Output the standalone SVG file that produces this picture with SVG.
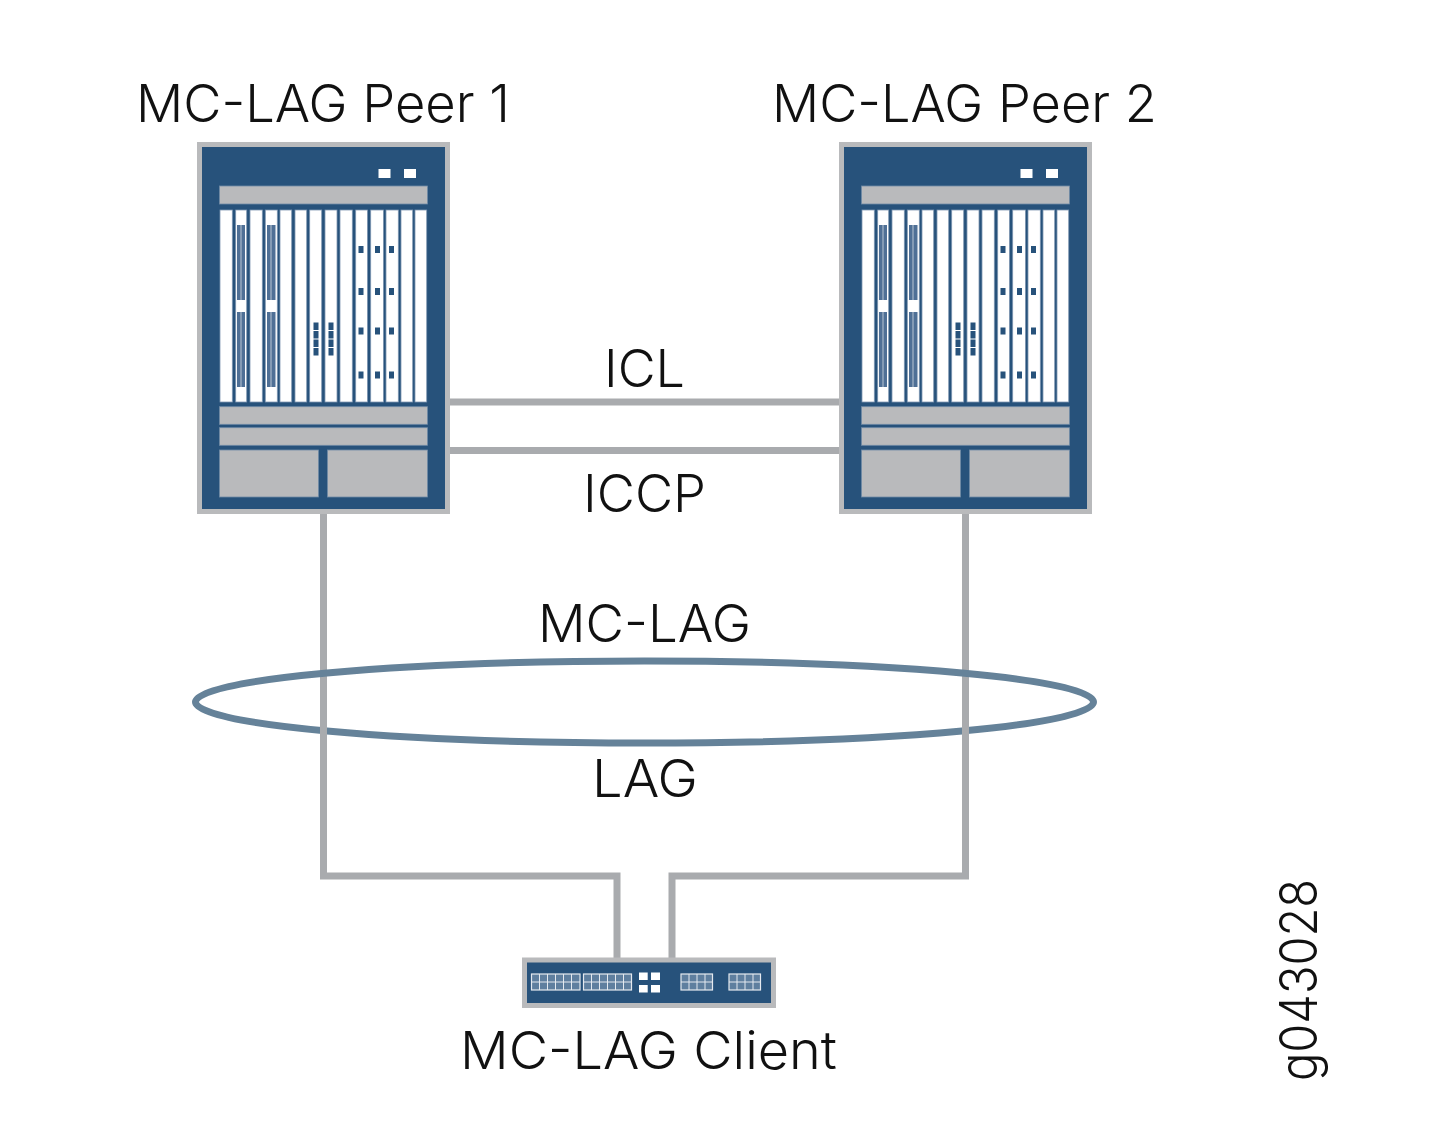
<svg xmlns="http://www.w3.org/2000/svg" xmlns:xlink="http://www.w3.org/1999/xlink" width="1450" height="1138" viewBox="0 0 1450 1138">
<style>
.t{font-family:"Inter","Lato","Liberation Sans",sans-serif;font-size:52px;fill:#111;font-weight:300}
.body{fill:#27527b;stroke:#b9babc;stroke-width:5}
.g{fill:#b9babc;stroke:#6f8aa6;stroke-width:.8}
.s{fill:#fff;stroke:#7f97b2;stroke-width:.8}
.w{fill:#fff}
.d{fill:#27527b}
.st{fill:#4f7096}
.c{fill:none;stroke:#a9abae;stroke-width:7}
.e{fill:none;stroke:#658299;stroke-width:7}
.p{fill:#5f7f9f;stroke:#e4e9ef;stroke-width:1.2}
.pl{stroke:#e4e9ef;stroke-width:1;fill:none}
</style>
<defs>
<g id="chassis">
<rect class="body" x="199.5" y="144.500" width="248" height="367"/>
<rect class="w" x="378.5" y="169" width="12" height="9"/>
<rect class="w" x="404" y="169" width="12" height="9"/>
<rect class="g" x="219.5" y="186" width="208" height="18"/>
<g class="slots">
<rect class="s" x="220" y="210" width="12.3" height="192"/>
<rect class="s" x="235.7" y="210" width="11" height="192"/>
<rect class="s" x="250" y="210" width="12.3" height="192"/>
<rect class="s" x="265.3" y="210" width="12" height="192"/>
<rect class="s" x="280" y="210" width="11.7" height="192"/>
<rect class="s" x="295" y="210" width="11.7" height="192"/>
<rect class="s" x="309.7" y="210" width="12" height="192"/>
<rect class="s" x="325" y="210" width="12" height="192"/>
<rect class="s" x="340" y="210" width="12.3" height="192"/>
<rect class="s" x="355.7" y="210" width="11.7" height="192"/>
<rect class="s" x="370.7" y="210" width="12.7" height="192"/>
<rect class="s" x="386" y="210" width="12.3" height="192"/>
<rect class="s" x="401" y="210" width="11.7" height="192"/>
<rect class="s" x="415" y="210" width="11.7" height="192"/>
</g>
<g id="stripes">
<rect class="st" x="237" y="225" width="8" height="75"/>
<rect class="st" x="237" y="312" width="8" height="75"/>
<rect class="w" x="240.5" y="225" width="1" height="75" opacity=".6"/>
<rect class="w" x="240.5" y="312" width="1" height="75" opacity=".6"/>
<rect class="st" x="267" y="225" width="8.5" height="75"/>
<rect class="st" x="267" y="312" width="8.5" height="75"/>
<rect class="w" x="270.5" y="225" width="1" height="75" opacity=".6"/>
<rect class="w" x="270.5" y="312" width="1" height="75" opacity=".6"/>
</g>
<g class="d">
<rect x="358.5" y="246" width="5" height="7"/><rect x="375" y="246" width="5" height="7"/><rect x="389" y="246" width="5" height="7"/>
<rect x="358.5" y="288" width="5" height="7"/><rect x="375" y="288" width="5" height="7"/><rect x="389" y="288" width="5" height="7"/>
<rect x="358.5" y="327.500" width="5" height="7"/><rect x="375" y="327.500" width="5" height="7"/><rect x="389" y="327.500" width="5" height="7"/>
<rect x="358.5" y="371.500" width="5" height="7"/><rect x="375" y="371.500" width="5" height="7"/><rect x="389" y="371.500" width="5" height="7"/>
<rect x="313.500" y="322.500" width="5" height="7.500"/><rect x="313.500" y="331" width="5" height="7.500"/><rect x="313.500" y="339.500" width="5" height="7.500"/><rect x="313.500" y="348" width="5" height="7.500"/>
<rect x="328.500" y="322.500" width="5" height="7.500"/><rect x="328.500" y="331" width="5" height="7.500"/><rect x="328.500" y="339.500" width="5" height="7.500"/><rect x="328.500" y="348" width="5" height="7.500"/>
</g>
<rect class="g" x="219.5" y="406.700" width="208" height="17.600"/>
<rect class="g" x="219.5" y="427.700" width="208" height="17.600"/>
<rect class="g" x="219.5" y="450" width="99" height="47"/>
<rect class="g" x="327.500" y="450" width="100" height="47"/>
</g>
</defs>
<g id="connectors">
<path class="c" d="M448 402H840"/>
<path class="c" d="M448 450.500H840"/>
<path class="c" d="M323.500 511V876H617V958"/>
<path class="c" d="M965.500 511V876H672V958"/>
<ellipse class="e" cx="644.500" cy="702" rx="449" ry="41"/>
<path class="c" d="M323.500 720V740"/>
<path class="c" d="M965.500 720V740"/>
</g>
<g id="peer1"><use href="#chassis" xlink:href="#chassis"/><text class="t" x="136" y="122" textLength="374" lengthAdjust="spacingAndGlyphs">MC-LAG Peer 1</text></g>
<g id="peer2"><use href="#chassis" xlink:href="#chassis" x="642"/><text class="t" x="772" y="122" textLength="385" lengthAdjust="spacingAndGlyphs">MC-LAG Peer 2</text></g>
<g id="client">
<rect class="body" x="524.500" y="960" width="249" height="45.500"/>
<rect class="p" x="531.500" y="974" width="48.500" height="16"/>
<path class="pl" d="M531.500 982H580M539.500 974V990M547.500 974V990M555.500 974V990M563.500 974V990M571.500 974V990"/>
<rect class="p" x="583.500" y="974" width="48" height="16"/>
<path class="pl" d="M583.500 982H631.500M591.500 974V990M599.500 974V990M607.500 974V990M615.500 974V990M623.500 974V990"/>
<rect class="w" x="639" y="972.500" width="8.700" height="7.500"/>
<rect class="w" x="651" y="972.500" width="9" height="7.500"/>
<rect class="w" x="639" y="985" width="8.700" height="7.500"/>
<rect class="w" x="651" y="985" width="9" height="7.500"/>
<rect class="p" x="681" y="974" width="31.500" height="16"/>
<path class="pl" d="M681 982H712.500M689 974V990M697 974V990M705 974V990"/>
<rect class="p" x="729" y="974" width="31.500" height="16"/>
<path class="pl" d="M729 982H760.500M737 974V990M745 974V990M753 974V990"/>
<text class="t" x="460" y="1069" textLength="377" lengthAdjust="spacingAndGlyphs">MC-LAG Client</text>
</g>
<g id="labels">
<text class="t" x="604" y="387" textLength="81" lengthAdjust="spacingAndGlyphs">ICL</text>
<text class="t" x="583" y="512" textLength="123" lengthAdjust="spacingAndGlyphs">ICCP</text>
<text class="t" x="538" y="642" textLength="213" lengthAdjust="spacingAndGlyphs">MC-LAG</text>
<text class="t" x="592" y="797" textLength="106" lengthAdjust="spacingAndGlyphs">LAG</text>
<text class="t" transform="translate(1317 1081) rotate(-90)" textLength="202" lengthAdjust="spacingAndGlyphs">g043028</text>
</g>
</svg>
